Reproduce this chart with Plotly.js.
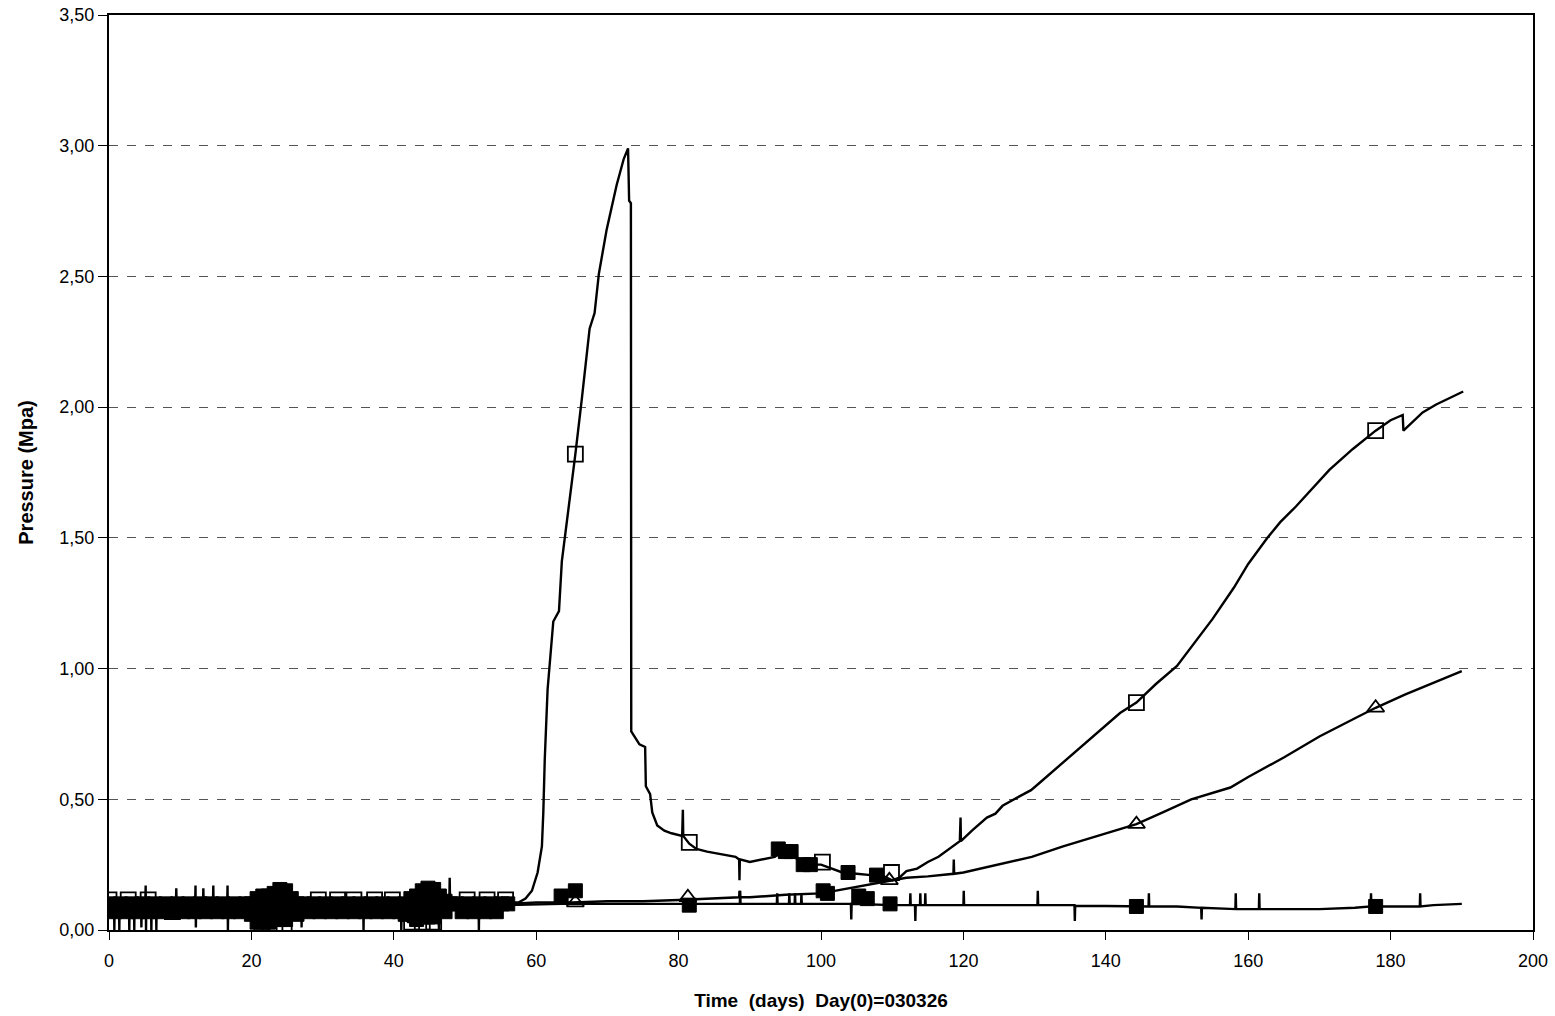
<!DOCTYPE html>
<html>
<head>
<meta charset="utf-8">
<script src="https://cdn.plot.ly/plotly-3.0.1.min.js"></script>
<style>
html,body{margin:0;padding:0;background:#fff;}
#chart{width:1555px;height:1016px;}
</style>
</head>
<body>
<div id="chart"></div>
<script>
// ---- Series A (open squares): line data ----
const dayA = [0,0.7,0.75,0.8,1.4,1.45,1.5,2.8,2.85,2.9,3.5,3.55,3.6,4.5,4.55,4.6,5.1,5.15,5.2,5.25,5.9,5.95,6.0,6.6,6.65,6.7,8,9.4,9.45,9.5,9.8,9.85,9.9,11.1,11.15,11.2,12.1,12.15,12.2,12.25,13.2,13.25,13.3,13.6,13.65,13.7,14.6,14.65,14.7,14.75,16,16.05,16.1,16.6,16.65,16.7,16.75,17.4,17.45,17.5,19,20,21,22,23,24,25,26,27,27.05,27.1,30.5,30.55,30.6,33,35.7,35.75,35.8,36.7,36.75,36.8,40,41,41.05,41.1,42,43,44,45,46,46.3,46.35,46.4,47,47.8,47.85,47.9,50,50.05,50.1,51.9,51.95,52,55,56,57.5,58.5,59.4,60.2,60.8,61,61.2,61.6,62.4,63.2,63.6,64.7,65.5,66.4,67.5,68.2,68.8,69.9,71.3,72.3,72.9,73.05,73.3,73.35,73.8,74.5,75.3,75.4,76,76.3,77,78,79,80.5,80.6,80.65,81.5,82.5,84,86,88,88.5,88.55,88.6,90,92,93.5,94.5,96,97,98,100,101,103,105,107,108.5,110,111,112,113.5,115,116.5,118.4,119.5,119.6,119.65,121.2,123.3,124.5,125.5,127.8,129.5,131,134,137,140,142,144.3,147,150,152.5,155,158,160,162.7,164.5,166.7,169,171.4,174.7,177.9,180,181.7,181.8,184.5,186.4,188.3,190.2];
const presA = [0.11,0.11,0.0,0.11,0.11,0.0,0.11,0.11,0.0,0.11,0.11,0.0,0.11,0.11,0.01,0.11,0.11,0.17,0.0,0.11,0.11,0.0,0.11,0.11,0.0,0.11,0.10,0.10,0.16,0.10,0.10,0.06,0.10,0.10,0.05,0.10,0.10,0.17,0.01,0.10,0.10,0.16,0.10,0.10,0.06,0.10,0.10,0.17,0.07,0.10,0.10,0.05,0.10,0.10,0.17,0.0,0.10,0.10,0.08,0.10,0.10,0.08,0.03,0.02,0.04,0.02,0.06,0.10,0.10,0.01,0.10,0.10,0.05,0.10,0.11,0.11,0.0,0.11,0.11,0.05,0.11,0.11,0.08,0.0,0.06,0.03,0.03,0.04,0.03,0.05,0.03,0.0,0.08,0.10,0.11,0.20,0.11,0.11,0.06,0.11,0.11,0.0,0.11,0.11,0.105,0.105,0.12,0.15,0.22,0.32,0.45,0.65,0.92,1.18,1.22,1.41,1.64,1.82,2.03,2.30,2.36,2.51,2.68,2.85,2.95,2.99,2.79,2.78,0.76,0.74,0.71,0.70,0.55,0.52,0.45,0.40,0.38,0.37,0.36,0.46,0.36,0.33,0.31,0.30,0.29,0.28,0.27,0.19,0.27,0.26,0.27,0.28,0.30,0.29,0.26,0.25,0.25,0.24,0.22,0.215,0.21,0.21,0.19,0.20,0.225,0.235,0.26,0.28,0.32,0.34,0.43,0.34,0.38,0.43,0.445,0.475,0.51,0.535,0.57,0.64,0.71,0.78,0.83,0.87,0.94,1.01,1.10,1.19,1.31,1.40,1.50,1.56,1.62,1.69,1.76,1.84,1.91,1.95,1.97,1.91,1.98,2.01,2.035,2.06];

// ---- Series B (open triangles): line data ----
const dayB = [0,10,20,30,40,50,56,60,65,70,75,80,85,88.5,88.55,88.6,90,95,100,102,104,106,108,110,112,115,118.6,118.65,118.7,120,125,129.6,134,137.6,140,144.3,148,152,157.5,160,165,170,175,177.9,182,186,190];
const presB = [0.10,0.10,0.10,0.10,0.10,0.10,0.10,0.105,0.105,0.11,0.11,0.115,0.12,0.125,0.15,0.125,0.125,0.135,0.14,0.15,0.16,0.17,0.18,0.19,0.20,0.205,0.215,0.27,0.215,0.22,0.25,0.28,0.32,0.35,0.37,0.405,0.45,0.50,0.545,0.585,0.66,0.74,0.81,0.85,0.90,0.945,0.99];

// ---- Series C (filled squares): line data ----
const dayC = [0,10,19,20,21,22,23,24,25,26,41,42,43,44,45,46,47,56,63.5,70,80,88.6,88.65,88.7,93.8,93.85,93.9,95.5,95.55,95.6,96.3,96.35,96.4,97.2,97.25,97.3,100,104.2,104.25,104.3,110,112.5,112.55,112.6,113.2,113.25,113.3,113.9,113.95,114,114.6,114.65,114.7,120,120.05,120.1,130.4,130.45,130.5,135.6,135.65,135.7,140,146,146.05,146.1,150,153.4,153.45,153.5,158.2,158.25,158.3,161.5,161.55,161.6,165,170,175,177.2,177.25,177.3,182,184.1,184.15,184.2,186,190];
const presC = [0.09,0.09,0.09,0.07,0.05,0.12,0.06,0.15,0.08,0.09,0.09,0.06,0.13,0.08,0.16,0.07,0.09,0.095,0.10,0.10,0.10,0.10,0.15,0.10,0.10,0.14,0.10,0.10,0.14,0.10,0.10,0.14,0.10,0.10,0.14,0.10,0.10,0.10,0.04,0.10,0.095,0.095,0.14,0.095,0.095,0.035,0.095,0.095,0.14,0.095,0.095,0.14,0.095,0.095,0.15,0.095,0.095,0.15,0.095,0.095,0.035,0.092,0.092,0.09,0.14,0.09,0.09,0.085,0.04,0.085,0.08,0.14,0.08,0.08,0.14,0.08,0.08,0.08,0.085,0.09,0.14,0.09,0.09,0.09,0.14,0.09,0.095,0.10];

// ---- Marker positions ----
const mkOpenDay = [0,2.7,5.5,8.9,21.5,23.3,24.6,29.4,32.1,34.4,37.3,39.8,42.5,44.0,45.6,50.3,53.1,55.7,65.5,81.5,100.2,109.9,144.3,177.9];
const mkOpenP   = [0.115,0.115,0.115,0.07,0.02,0.01,0.02,0.115,0.115,0.115,0.115,0.115,0.03,0.03,0.03,0.115,0.115,0.115,1.82,0.335,0.26,0.22,0.87,1.91];

const mkTriDay = [65.5,81.3,109.6,144.3,177.9];
const mkTriP   = [0.105,0.125,0.19,0.405,0.85];

const mkFillDay = [0,0.8,1.6,2.4,3.2,4.0,4.8,5.6,6.4,7.2,8.0,8.8,9.6,10.4,11.2,12.0,12.8,13.6,14.4,15.2,16.0,16.8,17.6,18.4,19.2,
  20.0,20.0,20.8,20.8,20.8,21.6,21.6,21.6,22.4,22.4,22.4,23.2,23.2,23.2,24.0,24.0,24.0,24.8,24.8,24.8,25.6,25.6,26.4,26.4,
  27.2,28.0,28.8,29.6,30.4,31.2,32.0,32.8,33.6,34.4,35.2,36.0,36.8,37.6,38.4,39.2,40.0,40.8,
  41.6,41.6,42.4,42.4,43.2,43.2,43.2,44.0,44.0,44.0,44.8,44.8,44.8,45.6,45.6,45.6,46.4,46.4,47.2,47.2,48.0,
  48.8,49.6,50.4,51.2,52.0,52.8,53.6,54.4,55.2,56.0,
  63.5,65.5,81.5,94.0,95.0,95.8,97.5,98.5,100.3,100.9,103.8,105.3,106.5,107.8,109.7,144.3,177.9];
const mkFillP = [0.10,0.07,0.10,0.07,0.10,0.07,0.10,0.07,0.10,0.07,0.10,0.07,0.10,0.07,0.10,0.07,0.10,0.07,0.10,0.07,0.10,0.07,0.10,0.07,0.10,
  0.10,0.06,0.12,0.07,0.03,0.13,0.08,0.03,0.13,0.08,0.03,0.14,0.09,0.04,0.155,0.10,0.04,0.15,0.09,0.04,0.12,0.07,0.10,0.06,
  0.10,0.07,0.10,0.07,0.10,0.07,0.10,0.07,0.10,0.07,0.10,0.07,0.10,0.07,0.10,0.07,0.10,0.07,
  0.10,0.06,0.12,0.07,0.13,0.08,0.04,0.15,0.10,0.05,0.16,0.10,0.05,0.155,0.10,0.05,0.13,0.08,0.11,0.07,0.10,
  0.10,0.07,0.10,0.07,0.10,0.07,0.10,0.07,0.10,0.10,
  0.13,0.15,0.095,0.31,0.30,0.30,0.25,0.25,0.15,0.14,0.22,0.13,0.12,0.21,0.10,0.09,0.09];

const xTickVals = [0,20,40,60,80,100,120,140,160,180,200];
const yTickVals = [0,0.5,1,1.5,2,2.5,3,3.5];

const FONT = 'Liberation Sans, Arial, sans-serif';
const lineStyle = {color:'#000', width:2.4};

const traces = [
  {x:dayC, y:presC, mode:'lines', line:lineStyle, hoverinfo:'skip'},
  {x:dayB, y:presB, mode:'lines', line:lineStyle, hoverinfo:'skip'},
  {x:dayA, y:presA, mode:'lines', line:lineStyle, hoverinfo:'skip'},
  {x:mkFillDay, y:mkFillP, mode:'markers', marker:{symbol:'square', size:14, color:'#000', line:{color:'#000', width:1}}},
  {x:mkTriDay, y:mkTriP, mode:'markers', marker:{symbol:'triangle-up-open', size:15, color:'#000', line:{color:'#000', width:1.8}}},
  {x:mkOpenDay, y:mkOpenP, mode:'markers', marker:{symbol:'square-open', size:15, color:'#000', line:{color:'#000', width:1.8}}}
];

const layout = {
  width:1555, height:1016,
  margin:{l:109, r:22, t:15, b:86},
  paper_bgcolor:'#fff', plot_bgcolor:'#fff',
  showlegend:false,
  separators:', ',
  font:{family:FONT, size:18, color:'#000'},
  xaxis:{
    range:[0,200], tickvals:xTickVals, ticks:'outside', ticklen:8, tickwidth:1, tickcolor:'#000',
    ticklabelstandoff:5,
    showline:true, linecolor:'#000', linewidth:2, mirror:true, showgrid:false, zeroline:false,
    tickfont:{family:FONT, size:18},
    title:{text:'<b>Time  (days)  Day(0)=030326</b>', font:{family:FONT, size:19}, standoff:24}
  },
  yaxis:{
    range:[0,3.5], tickvals:yTickVals, tickformat:'.2f', ticks:'outside', ticklen:9, tickwidth:1, tickcolor:'#000',
    showline:true, linecolor:'#000', linewidth:2, mirror:true,
    showgrid:true, gridcolor:'#555', griddash:'dash', gridwidth:1, zeroline:false,
    tickfont:{family:FONT, size:18},
    title:{text:'<b>Pressure (Mpa)</b>', font:{family:FONT, size:20}, standoff:20}
  }
};

Plotly.newPlot('chart', traces, layout, {displayModeBar:false, staticPlot:true});
</script>
</body>
</html>
